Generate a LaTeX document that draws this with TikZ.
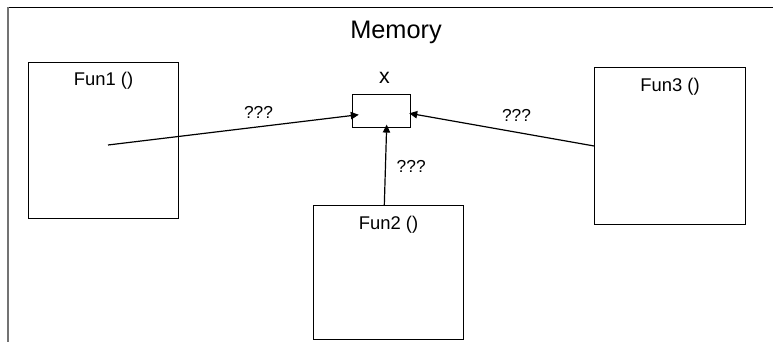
\documentclass[tikz,border=0pt]{standalone}
\usepackage{fontspec}
\setmainfont{Liberation Sans}
\usetikzlibrary{positioning,arrows.meta,calc}

\begin{document}
\begin{tikzpicture}[x=0.75pt,y=-0.75pt,
  fbox/.style={draw,line width=0.75pt,minimum width=113pt,minimum height=117.5pt,inner sep=0pt},
  fname/.style={font=\fontsize{13.8}{16}\selectfont,inner sep=0pt},
  qmark/.style={font=\fontsize{13}{15}\selectfont,inner sep=0pt},
  link/.style={line width=0.9pt,-{Triangle[length=6pt,width=5.5pt]}}]
\useasboundingbox (0,0) rectangle (773,342);
% memory frame
\draw[line width=0.9pt] (8,7.5) -- (773,7.5);
\draw[line width=1.2pt,black!55] (8,7.5) -- (8,342);
\node[font=\fontsize{19}{23}\selectfont,inner sep=0pt,anchor=base] (mem) at (396,39) {Memory};
% functions and the shared variable
\node[fbox] (fun1) at (103.5,140.5) {};
\node[fbox,minimum height=100pt] (fun2) at (388.5,272.5) {};
\node[fbox] (fun3) at (670,146) {};
\node[draw,line width=0.75pt,minimum width=43.5pt,minimum height=25pt] (xbox) at (381,110.7) {};
\node[fname,below=8pt of fun1.north] (f1) {Fun1 ()};
\node[fname,below=8pt of fun2.north] (f2) {Fun2 ()};
\node[fname,below=8pt of fun3.north] (f3) {Fun3 ()};
\node[font=\fontsize{16}{19}\selectfont,inner sep=0pt,above=7.5pt of xbox.north,xshift=2.6pt] (xname) {x};
% accesses
\draw[link] ($(fun1.center)+(4.5,4.5)$) -- node[qmark,pos=.6,above=6pt] (q1) {???} ($(xbox.west)+(7.3,4)$);
\draw[link] (fun3.west) -- node[qmark,pos=.42,above=7.5pt] (q3) {???} ($(xbox.east)+(-1.3,2.6)$);
\draw[link] ($(fun2.north)+(-4.2,0)$) -- node[qmark,pos=.48,right=8pt] (q2) {???} ($(xbox.south)+(5.7,-3.3)$);
\end{tikzpicture}
\end{document}
